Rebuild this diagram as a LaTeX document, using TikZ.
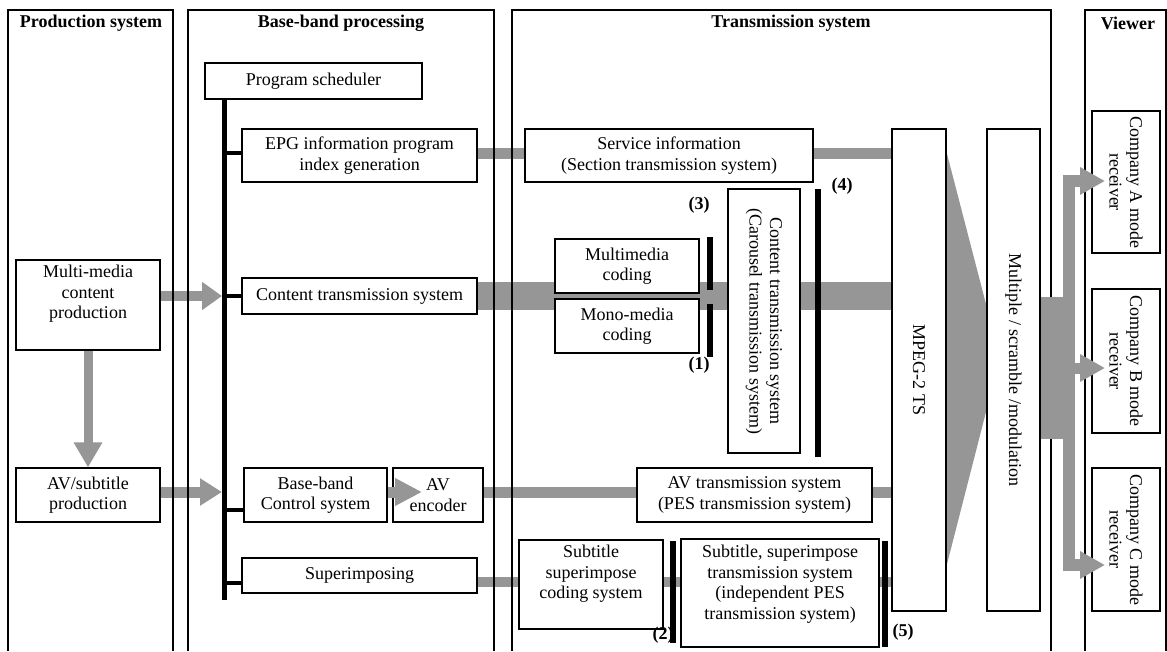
\documentclass[tikz,border=0pt]{standalone}
\usepackage{fontspec}
\setmainfont{Liberation Serif}
\usetikzlibrary{arrows.meta,calc}
\definecolor{gcol}{RGB}{150,150,150}
\newcommand{\dtxt}{\fontsize{18}{20.5}\selectfont}
\pgfdeclarelayer{bg}
\pgfsetlayers{bg,main}
\begin{document}
\begin{tikzpicture}[x=1pt,y=-1pt,
  panel/.style={line width=1.5pt},
  box/.style={draw, line width=1.2pt, fill=white, inner sep=0pt, align=center, font=\dtxt},
  txt/.style={inner sep=0pt, align=center, font=\dtxt},
  hdr/.style={inner sep=0pt, font=\dtxt\bfseries},
  gbar/.style={draw=gcol, line width=11pt},
  kbar/.style={line width=6pt},
  bbar/.style={line width=4.5pt},
  lbl/.style={inner sep=0pt, font=\dtxt\bfseries},
]
\useasboundingbox (0,0) rectangle (1167,651);

\coordinate (busT) at (224,99);
\coordinate (busB) at (224,600);

\node[hdr] (h1) at (91,23) {Production system};
\node[hdr] (h2) at (341,23) {Base-band processing};
\node[hdr] (h3) at (791,23) {Transmission system};
\node[hdr] (h4) at (1128,23) {Viewer};

% production
\node[box, minimum width=144, minimum height=90] (mmprod) at (88,305) {};
\node[txt] (mmprodT) at (88,294) {Multi-media\\content\\production};
\node[box, minimum width=144, minimum height=54] (avprod) at (88,495) {AV/subtitle\\production};

% base-band
\node[box, minimum width=217, minimum height=36] (sched) at (313.5,81) {Program scheduler};
\node[box, minimum width=235, minimum height=53] (epg) at (359.5,155.5) {EPG information program\\index generation};
\node[box, minimum width=235, minimum height=36] (cts) at (359.5,296) {Content transmission system};
\node[box, minimum width=143, minimum height=54] (bbc) at (315.5,495) {Base-band\\Control system};
\node[box, minimum width=90, minimum height=54] (avenc) at (438,495) {AV\\encoder};
\node[box, minimum width=235, minimum height=35] (superimp) at (359.5,575.5) {Superimposing};

% transmission
\node[box, minimum width=288, minimum height=53] (svc) at (669,155.5) {Service information\\(Section transmission system)};
\node[box, minimum width=144, minimum height=54] (mmcod) at (627,266) {Multimedia\\coding};
\node[box, minimum width=144, minimum height=54] (monocod) at (627,326) {Mono-media\\coding};
\node[box, minimum width=72, minimum height=264] (ctsys) at (764,321) {};
\node[txt, rotate=-90] (ctsysT) at (764,321) {Content transmission system\\(Carousel transmission system)};
\node[box, minimum width=235, minimum height=54] (avtrans) at (754.5,495) {AV transmission system\\(PES transmission system)};
\node[box, minimum width=144, minimum height=89] (subcod) at (591,584.5) {};
\node[txt] (subcodT) at (591,574) {Subtitle\\superimpose\\coding system};
\node[box, minimum width=198, minimum height=108] (subtrans) at (780,593) {};
\node[txt] (subtransT) at (780,584) {Subtitle, superimpose\\transmission system\\(independent PES\\transmission system)};
\node[box, minimum width=54, minimum height=482] (mpeg) at (919,370) {};
\node[txt, rotate=-90] (mpegT) at (919,370) {MPEG-2 TS};
\node[box, minimum width=53, minimum height=482] (mux) at (1013.5,370) {};
\node[txt, rotate=-90] (muxT) at (1013.5,370) {Multiple / scramble /modulation};

% viewer
\node[box, minimum width=68, minimum height=142] (compA) at (1126,182) {};
\node[txt, rotate=-90] (compAT) at (1126,182) {Company A mode\\receiver};
\node[box, minimum width=68, minimum height=144] (compB) at (1126,361) {};
\node[txt, rotate=-90] (compBT) at (1126,361) {Company B mode\\receiver};
\node[box, minimum width=68, minimum height=143] (compC) at (1126,539.5) {};
\node[txt, rotate=-90] (compCT) at (1126,539.5) {Company C mode\\receiver};

\begin{pgfonlayer}{bg}
  % gray bars under the boxes
  \draw[gcol, line width=28pt] (cts.east) -- (mpeg.west |- cts.east);
  \draw[gbar] (epg.east |- 0,153) -- (svc.west |- 0,153);
  \draw[gbar] (svc.east |- 0,153) -- (mpeg.west |- 0,153);
  \draw[gbar] (avenc.east |- 0,492) -- (avtrans.west |- 0,492);
  \draw[gbar] (avtrans.east |- 0,492) -- (mpeg.west |- 0,492);
  \draw[gbar, line width=10pt] (superimp.east |- 0,582) -- (subcod.west |- 0,582);
  \draw[gbar, line width=10pt] (subcod.east |- 0,582) -- (subtrans.west |- 0,582);
  \draw[gbar, line width=10pt] (subtrans.east |- 0,582) -- (mpeg.west |- 0,582);
  % gray arrows into the bus
  \draw[gbar, line width=10pt, -{Triangle[width=27pt,length=20pt]}] (mmprod.east |- cts.west) -- ($(busT |- cts.west)+(-2,0)$);
  \draw[gbar, line width=11pt, -{Triangle[width=26pt,length=22pt]}] (avprod.east |- 0,492) -- ($(busT |- 0,492)+(-2,0)$);
  \draw[gbar, line width=9pt, -{Triangle[width=27pt,length=25pt]}] (mmprod.south) -- (avprod.north);
  % trapezoid
  \fill[gcol] (946,150) -- (987,308) -- (987,408) -- (946,568) -- cycle;
  % panels
  \draw[panel] (8,651) -- (8,10) -- (173,10) -- (173,651);
  \draw[panel] (188,651) -- (188,10) -- (494,10) -- (494,651);
  \draw[panel] (512,651) -- (512,10) -- (1051,10) -- (1051,651);
  \draw[panel] (1085,651) -- (1085,10) -- (1166,10) -- (1166,651);
\end{pgfonlayer}

% output network
\fill[gcol] (mux.east |- 0,297) rectangle (1063,439);
\coordinate (tA) at (1105,181);
\coordinate (tB) at (1105,368);
\coordinate (tC) at (1105,565);
\draw[gbar, line width=12pt, line join=miter, -{Triangle[width=26pt,length=25pt]}] (1069,368) -- (1069,181) -- (tA);
\draw[gbar, line width=12pt, line join=miter, -{Triangle[width=26pt,length=25pt]}] (1069,368) -- (1069,565) -- (tC);
\draw[gbar, line width=11pt, -{Triangle[width=26pt,length=25pt]}] (1069,368) -- (tB);

% bus and branches
\draw[line width=5pt] (busT) -- (busB);
\draw[bbar] (busT |- 0,153) -- (epg.west |- 0,153);
\draw[bbar] (busT |- cts.west) -- (cts.west);
\draw[bbar] (busT |- 0,510) -- (bbc.west |- 0,510);
\draw[bbar] (busT |- 0,583) -- (superimp.west |- 0,583);

% arrow base-band control -> AV encoder
\draw[gbar, line width=11pt, -{Triangle[width=26pt,length=27pt]}] (bbc.east |- 0,492) -- (422,492);

% black bars
\draw[kbar] (710,237) -- (710,290);
\draw[kbar] (710,304) -- (710,357);
\draw[kbar] (817.5,189) -- (817.5,457);
\draw[kbar] (673,541) -- (673,643);
\draw[kbar] (885,541) -- (885,647);

% labels
\node[lbl] (l3) at (699,205) {(3)};
\node[lbl] (l1) at (699,365) {(1)};
\node[lbl] (l4) at (842,186) {(4)};
\node[lbl] (l2) at (663,635) {(2)};
\node[lbl] (l5) at (903,632) {(5)};
\end{tikzpicture}
\end{document}
